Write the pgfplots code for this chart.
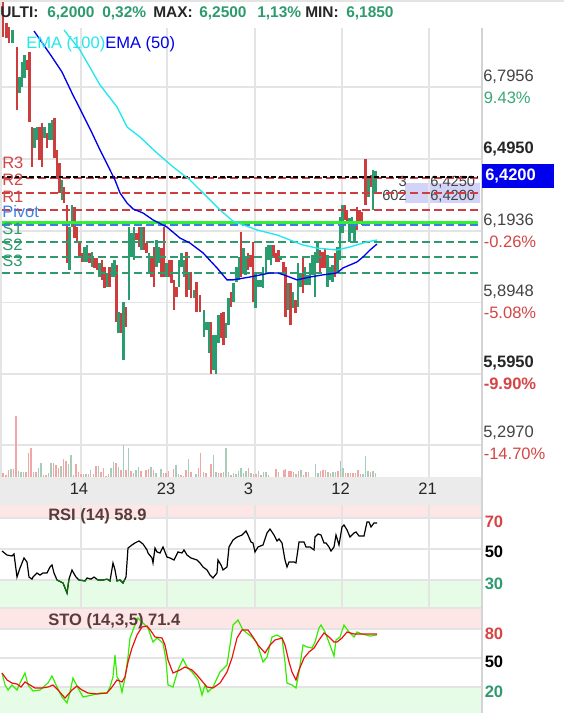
\documentclass[border=0pt]{standalone}
\usepackage{fontspec}
\setmainfont{Liberation Sans}
\usepackage{pgfplots}
\pgfplotsset{compat=1.18}
\usepgfplotslibrary{fillbetween}
\usepackage{pgfplotstable}

\definecolor{cR}{HTML}{CC3D3D}
\definecolor{cG}{HTML}{2A9D70}
\definecolor{vR}{HTML}{F2A7A7}
\definecolor{vG}{HTML}{A9CBB9}
\definecolor{gridc}{HTML}{E4E4E4}
\definecolor{pivR}{HTML}{CF3E3E}
\definecolor{pivG}{HTML}{2E9A6E}
\definecolor{pivB}{HTML}{3C7FE0}
\definecolor{limeL}{HTML}{33EE33}
\definecolor{emaB}{HTML}{0000EE}
\definecolor{emaC}{HTML}{22E8EE}
\definecolor{hdrG}{HTML}{2E9B6F}
\definecolor{hdrK}{HTML}{262626}
\definecolor{txt}{HTML}{444444}
\definecolor{pctG}{HTML}{3AA876}
\definecolor{pctR}{HTML}{D64545}
\definecolor{pinkb}{HTML}{FDE6E6}
\definecolor{greenb}{HTML}{E6FCE6}
\definecolor{lav}{HTML}{D2D3F6}
\definecolor{bandg}{HTML}{EBEBEB}
\definecolor{rsiG}{HTML}{0A6E0A}
\definecolor{stoK}{HTML}{33EE00}
\definecolor{stoD}{HTML}{EE1111}
\definecolor{lbl}{HTML}{5A3A3A}
\definecolor{labR}{HTML}{D04848}
\definecolor{labB}{HTML}{3A82E6}
\definecolor{sepc}{HTML}{D4D4D4}
\definecolor{fillG}{HTML}{CCF5CC}
\definecolor{fillP}{HTML}{F6CBCB}

\newcommand{\fa}{\fontsize{12.4}{14}\selectfont}
\newcommand{\fb}{\fontsize{11.6}{13}\selectfont}
\newcommand{\fc}{\fontsize{12.4}{14}\selectfont}
\newcommand{\fd}{\fontsize{11}{13}\selectfont}

\pgfplotsset{panel/.style={scale only axis, width=360.75pt, xmin=0, xmax=481,
  axis line style={draw=none}, tick style={draw=none},
  xtick={81,167,255,342,429}, xticklabels={}, yticklabels={},
  grid=major, major grid style={draw=gridc, line width=1.3pt}},
  hgrid/.style={gridc, line width=1.3pt, forget plot}}

\pgfplotstableread{
x v
2 48.7
7 46.1
12 45.5
14 46.8
17 31.9
20 37.7
24 44.2
27 41.6
29 31.9
32 30.6
33 31.9
37 34.5
40 33.2
43 34.5
47 34.5
50 38.4
52 39.7
54 34.5
57 30.0
63 28.1
67 21.6
69 30.6
72 36.5
73 35.2
76 31.9
79 30.0
85 29.4
87 31.3
91 30.6
94 31.9
98 30.0
103 30.0
107 30.6
110 29.4
113 41.0
115 36.5
117 29.4
120 30.0
123 28.1
126 31.9
128 50.6
132 52.6
135 53.9
139 55.2
143 53.2
147 49.4
148 47.4
152 44.2
153 41.0
155 50.6
157 48.1
160 47.4
163 51.3
167 44.8
170 44.2
174 42.9
178 48.1
182 47.4
184 49.4
187 46.1
191 44.2
197 42.9
200 41.0
203 38.4
207 36.5
210 33.2
213 31.3
217 34.5
218 42.9
221 39.7
223 36.5
227 38.4
229 51.3
233 55.8
237 57.7
242 59.0
246 61.6
248 59.0
251 54.5
253 53.9
255 48.1
258 51.3
263 52.6
267 60.3
270 62.9
274 59.0
277 55.2
279 56.5
282 53.9
285 42.9
287 38.4
289 41.6
294 41.6
296 41.0
299 54.5
304 54.5
306 51.3
310 51.3
314 49.4
315 57.7
318 59.7
321 59.0
324 53.9
326 53.9
329 51.3
331 48.7
334 51.3
336 59.0
339 52.6
342 64.2
344 65.5
347 62.3
350 57.7
354 60.3
356 61.0
359 58.4
364 58.4
367 67.4
369 67.4
371 64.2
374 66.8
377 66.8
}\rsitab

\pgfplotstableread{
x v
2 34.5
5 22.1
8 16.9
12 22.1
17 16.9
20 24.2
25 34.5
28 22.1
33 15.9
40 16.9
48 24.2
52 31.4
57 20.0
62 9.7
67 3.5
70 14.8
73 29.3
78 19.0
83 9.7
92 11.7
100 13.8
107 13.8
110 20.0
113 30.4
115 53.1
117 30.4
119 27.3
122 14.8
125 29.3
128 51.0
130 70.7
135 84.1
138 91.4
143 86.2
148 81.0
153 66.5
157 70.7
163 65.5
166 47.9
168 22.1
173 20.0
178 37.6
183 49.0
187 40.7
192 35.5
198 27.3
202 11.7
205 22.1
208 14.8
213 20.0
220 35.5
227 42.8
230 63.4
233 84.1
238 89.3
243 79.0
252 71.7
257 65.5
263 45.9
267 51.0
272 71.7
277 73.8
282 70.7
285 45.9
287 24.1
292 22.1
296 19.0
299 35.5
303 63.4
307 61.4
312 60.3
315 66.5
319 81.0
321 84.1
325 76.9
330 63.4
334 52.1
336 68.6
340 71.7
344 84.1
349 76.9
354 71.7
357 76.9
362 74.8
370 72.7
377 73.8
}\stoKtab

\pgfplotstableread{
x v
2 34.5
7 27.3
12 24.1
17 23.1
21 20.0
25 25.2
30 22.1
35 19.0
42 19.0
48 20.0
53 22.1
58 16.9
65 8.6
72 16.9
77 21.0
82 16.9
88 13.8
97 12.8
107 13.8
112 20.0
117 27.3
122 25.2
125 30.4
128 45.9
132 60.3
137 73.8
142 82.1
147 83.1
151 77.9
155 71.7
162 70.7
165 63.4
168 47.9
173 34.5
180 37.6
185 40.7
192 37.6
197 32.4
202 26.2
207 20.0
213 19.0
220 24.1
227 35.5
232 50.0
237 70.7
242 79.0
248 79.0
253 71.7
258 63.4
265 55.2
270 63.4
275 68.6
282 70.7
285 63.4
289 45.9
292 35.5
296 27.3
299 37.6
304 50.0
309 56.2
314 60.3
319 68.6
324 75.9
329 71.7
334 66.5
337 66.5
342 70.7
347 76.9
354 74.8
362 74.8
369 74.8
377 74.8
}\stoDtab

\begin{document}
\begin{tikzpicture}
% ---------- backgrounds ----------
\begin{scope}[x=0.75pt, y=0.75pt]
\fill[white] (0,0) rectangle (564,713);
\fill[bandg] (0,208) rectangle (481,236);
\fill[pinkb] (0,195) rectangle (481,208);
\fill[greenb] (0,106) rectangle (481,133);
\fill[pinkb] (0,84) rectangle (481,105);
\fill[greenb] (0,0) rectangle (481,26);
% bid / ask box
\begin{scope}
\clip (0,0) rectangle (480,713);
\fill[lav] (405,510) rectangle (481,530);
\node[anchor=base east, inner sep=0pt, font=\fd, text=txt] at (407,526.5) {3};
\node[anchor=base west, inner sep=0pt, font=\fd, text=txt] at (430,526.5) {6,4250};
\node[anchor=base east, inner sep=0pt, font=\fd, text=txt] at (407,512.5) {602};
\node[anchor=base west, inner sep=0pt, font=\fd, text=txt] at (430,512.5) {6,4200};
\end{scope}
\end{scope}

% ---------- main price panel ----------
\begin{axis}[panel, at={(0pt,177pt)}, anchor=south west, height=336.75pt,
  ymin=5.1639, ymax=7.0434, clip=false,
  ytick={5.297,5.595,5.8948,6.1936,6.495,6.7956}]
% horizontal price grid
\addplot[hgrid] coordinates {(0,6.7956) (478,6.7956)};
\addplot[hgrid] coordinates {(0,6.4950) (478,6.4950)};
\addplot[hgrid] coordinates {(0,6.1936) (478,6.1936)};
\addplot[hgrid] coordinates {(0,5.8948) (478,5.8948)};
\addplot[hgrid] coordinates {(0,5.5950) (478,5.5950)};
\addplot[hgrid] coordinates {(0,5.2970) (478,5.2970)};
% candles (low -> high)
\addplot[cR, line width=1.7pt, unbounded coords=jump] coordinates {
(3,7.006)(3,7.161)(3,nan) (6.5,7.002)(6.5,7.064)(6.5,nan) (9,6.981)(9,7.048)(9,nan)
(17,6.700)(17,6.964)(17,nan) (27,6.868)(27,6.909)(27,nan) (29.5,6.650)(29.5,6.943)(29.5,nan)
(32,6.462)(32,6.629)(32,nan) (39.5,6.491)(39.5,6.629)(39.5,nan) (42,6.462)(42,6.646)(42,nan)
(47,6.541)(47,6.604)(47,nan) (54.5,6.499)(54.5,6.667)(54.5,nan) (57,6.420)(57,6.533)(57,nan)
(59.5,6.353)(59.5,6.478)(59.5,nan) (64,6.311)(64,6.378)(64,nan) (67,6.060)(67,6.302)(67,nan)
(74.5,6.164)(74.5,6.294)(74.5,nan) (77,6.148)(77,6.210)(77,nan) (79.5,6.081)(79.5,6.143)(79.5,nan)
(82,6.064)(82,6.102)(82,nan) (89.5,6.060)(89.5,6.102)(89.5,nan) (94.5,6.039)(94.5,6.081)(94.5,nan)
(97,6.030)(97,6.081)(97,nan) (102,5.989)(102,6.072)(102,nan) (104.5,5.955)(104.5,6.043)(104.5,nan)
(109.5,5.959)(109.5,6.043)(109.5,nan) (116.5,5.813)(116.5,6.051)(116.5,nan) (121,5.767)(121,5.850)(121,nan)
(126,5.792)(126,5.875)(126,nan) (136.5,6.156)(136.5,6.185)(136.5,nan) (139,6.127)(139,6.210)(139,nan)
(144,6.114)(144,6.210)(144,nan) (146.5,6.102)(146.5,6.143)(146.5,nan) (151.5,6.001)(151.5,6.085)(151.5,nan)
(154,5.959)(154,6.127)(154,nan) (161.5,6.001)(161.5,6.122)(161.5,nan) (164,6.001)(164,6.210)(164,nan)
(169,6.001)(169,6.072)(169,nan) (171.5,5.976)(171.5,6.072)(171.5,nan) (174,5.863)(174,5.989)(174,nan)
(176.5,5.917)(176.5,5.959)(176.5,nan) (186.5,5.917)(186.5,6.106)(186.5,nan) (191,5.913)(191,6.022)(191,nan)
(196.5,5.855)(196.5,5.980)(196.5,nan) (200,5.855)(200,5.926)(200,nan) (211,5.595)(211,5.813)(211,nan)
(221,5.746)(221,5.850)(221,nan) (223.5,5.716)(223.5,5.855)(223.5,nan) (231,5.875)(231,5.938)(231,nan)
(241,6.001)(241,6.189)(241,nan) (248,6.030)(248,6.102)(248,nan) (250.5,6.043)(250.5,6.093)(250.5,nan)
(253,5.896)(253,6.148)(253,nan) (273.5,6.081)(273.5,6.135)(273.5,nan) (276,6.064)(276,6.102)(276,nan)
(278.5,6.064)(278.5,6.114)(278.5,nan) (283.5,6.018)(283.5,6.064)(283.5,nan) (285.5,5.834)(285.5,6.043)(285.5,nan)
(290.5,5.800)(290.5,5.976)(290.5,nan) (295.5,5.850)(295.5,5.905)(295.5,nan) (303,5.934)(303,6.081)(303,nan)
(320,6.018)(320,6.114)(320,nan) (322.5,6.039)(322.5,6.106)(322.5,nan) (325,6.039)(325,6.122)(325,nan)
(335,6.001)(335,6.102)(335,nan) (345,6.240)(345,6.302)(345,nan) (347,6.227)(347,6.282)(347,nan)
(357,6.198)(357,6.294)(357,nan) (359.5,6.231)(359.5,6.282)(359.5,nan) (362,6.219)(362,6.273)(362,nan)
(365.5,6.302)(365.5,6.495)(365.5,nan) (371,6.378)(371,6.428)(371,nan)
};
\addplot[cG, line width=1.7pt, unbounded coords=jump] coordinates {
(12.5,6.981)(12.5,7.035)(12.5,nan) (19.5,6.771)(19.5,6.838)(19.5,nan) (22,6.796)(22,6.901)(22,nan)
(24.5,6.834)(24.5,6.930)(24.5,nan) (34.5,6.541)(34.5,6.625)(34.5,nan) (37,6.575)(37,6.629)(37,nan)
(44.5,6.583)(44.5,6.629)(44.5,nan) (49.5,6.575)(49.5,6.646)(49.5,nan) (52,6.575)(52,6.658)(52,nan)
(62,6.323)(62,6.407)(62,nan) (69.5,6.030)(69.5,6.210)(69.5,nan) (72,6.210)(72,6.302)(72,nan)
(84.5,6.064)(84.5,6.127)(84.5,nan) (87,6.064)(87,6.135)(87,nan) (92,6.043)(92,6.106)(92,nan)
(99.5,6.001)(99.5,6.060)(99.5,nan) (107,5.959)(107,6.018)(107,nan) (112,6.001)(112,6.060)(112,nan)
(114.5,6.001)(114.5,6.072)(114.5,nan) (118.5,5.767)(118.5,5.855)(118.5,nan) (123.5,5.654)(123.5,5.896)(123.5,nan)
(129,5.905)(129,6.210)(129,nan) (131.5,6.085)(131.5,6.185)(131.5,nan) (134,6.072)(134,6.210)(134,nan)
(141.5,6.114)(141.5,6.210)(141.5,nan) (149,6.018)(149,6.102)(149,nan) (156.5,6.043)(156.5,6.156)(156.5,nan)
(159,6.060)(159,6.127)(159,nan) (166.5,6.001)(166.5,6.060)(166.5,nan) (179,5.959)(179,6.072)(179,nan)
(181.5,6.043)(181.5,6.102)(181.5,nan) (184,6.001)(184,6.072)(184,nan) (189,5.947)(189,6.018)(189,nan)
(194,5.913)(194,5.947)(194,nan) (204,5.750)(204,5.863)(204,nan) (206.5,5.779)(206.5,5.813)(206.5,nan)
(209,5.683)(209,5.813)(209,nan) (213.5,5.612)(213.5,5.758)(213.5,nan) (216,5.597)(216,5.758)(216,nan)
(218.5,5.725)(218.5,5.842)(218.5,nan) (226,5.746)(226,5.808)(226,nan) (228.5,5.800)(228.5,5.913)(228.5,nan)
(233.5,5.896)(233.5,5.976)(233.5,nan) (236.5,5.980)(236.5,6.043)(236.5,nan) (239,5.989)(239,6.085)(239,nan)
(243.5,6.018)(243.5,6.122)(243.5,nan) (245.5,6.010)(245.5,6.085)(245.5,nan) (255.5,5.871)(255.5,6.018)(255.5,nan)
(258,5.959)(258,5.989)(258,nan) (260.5,5.959)(260.5,5.989)(260.5,nan) (263,5.955)(263,6.043)(263,nan)
(266,6.018)(266,6.127)(266,nan) (268.5,6.072)(268.5,6.135)(268.5,nan) (271,6.051)(271,6.135)(271,nan)
(281,6.072)(281,6.085)(281,nan) (288,5.863)(288,5.976)(288,nan) (293,5.871)(293,5.938)(293,nan)
(298,5.875)(298,6.060)(298,nan) (300.5,5.959)(300.5,6.018)(300.5,nan) (305,5.968)(305,6.043)(305,nan)
(307.5,5.968)(307.5,6.010)(307.5,nan) (310,5.968)(310,6.060)(310,nan) (312.5,6.010)(312.5,6.093)(312.5,nan)
(315,5.917)(315,6.106)(315,nan) (317.5,6.060)(317.5,6.143)(317.5,nan) (327.5,5.959)(327.5,6.093)(327.5,nan)
(330,5.989)(330,6.043)(330,nan) (332.5,5.980)(332.5,6.051)(332.5,nan) (337.5,6.018)(337.5,6.127)(337.5,nan)
(340,6.072)(340,6.252)(340,nan) (342.5,6.185)(342.5,6.302)(342.5,nan) (349.5,6.148)(349.5,6.248)(349.5,nan)
(352,6.185)(352,6.252)(352,nan) (354.5,6.148)(354.5,6.231)(354.5,nan) (368.5,6.336)(368.5,6.420)(368.5,nan)
(373,6.282)(373,6.449)(373,nan) (375.5,6.353)(375.5,6.445)(375.5,nan)
};
% pivot levels
\addplot[pivR, line width=1.5pt, dash pattern=on 6pt off 3pt] coordinates {(2,6.416) (478,6.416)};
\addplot[pivR, line width=1.5pt, dash pattern=on 6pt off 3pt] coordinates {(2,6.353) (478,6.353)};
\addplot[pivR, line width=1.5pt, dash pattern=on 6pt off 3pt] coordinates {(2,6.282) (478,6.282)};
\addplot[limeL, line width=2.6pt] coordinates {(0,6.229) (478,6.229)};
\addplot[pivB, line width=1.5pt, dash pattern=on 6pt off 3pt] coordinates {(2,6.219) (478,6.219)};
\addplot[pivG, line width=1.5pt, dash pattern=on 6pt off 3pt] coordinates {(2,6.148) (478,6.148)};
\addplot[pivG, line width=1.5pt, dash pattern=on 6pt off 3pt] coordinates {(2,6.085) (478,6.085)};
\addplot[pivG, line width=1.5pt, dash pattern=on 6pt off 3pt] coordinates {(2,6.018) (478,6.018)};
\addplot[black, line width=1.3pt, dash pattern=on 3.5pt off 2pt] coordinates {(0,6.420) (478,6.420)};
% EMA 50
\addplot[emaB, line width=1pt] coordinates {
(34,7.031) (52,6.922) (62,6.859) (72,6.771) (82,6.688) (92,6.604) (100,6.533) (110,6.449)
(115,6.407) (120,6.353) (127,6.311) (133,6.286) (143,6.269) (153,6.240) (167,6.210) (180,6.164)
(190,6.143) (203,6.102) (217,6.039) (227,5.989) (233,5.989) (250,6.001) (270,6.018) (278,6.018)
(287,6.005) (297,5.989) (310,6.001) (323,6.010) (337,6.018) (343,6.039) (357,6.064) (363,6.085)
(370,6.114) (377,6.139)};
% EMA 100
\addplot[emaC, line width=1pt] coordinates {
(64,7.035) (80,6.951) (100,6.805) (117,6.713) (127,6.629) (140,6.587) (157,6.520) (173,6.462)
(190,6.407) (203,6.353) (220,6.282) (233,6.235) (257,6.198) (277,6.177) (290,6.156) (303,6.135)
(317,6.122) (337,6.114) (350,6.127) (367,6.148) (377,6.156)};
\end{axis}

% ---------- volume ----------
\begin{axis}[scale only axis, at={(0pt,177pt)}, anchor=south west, width=360.75pt, height=336.75pt,
  xmin=0, xmax=481, ymin=0, ymax=449, hide axis]
\addplot[vR, ycomb, line width=1.2pt] coordinates {
(3,4) (6,2.3) (8.3,7.3) (13.3,8.3) (16,60.7) (26,4.7) (28.3,24.3) (31,29.3) (36,4.7) (46,2.3)
(53.3,14.3) (56,12.3) (58.3,9.3) (63.3,18.3) (66,16.3) (73.3,2.3) (76,13.3) (78.3,5.3) (81,3.3)
(83.3,3.3) (88.3,3.3) (93.3,3.3) (95.7,11.3) (100.7,5.3) (103.3,9.3) (108.3,3.3) (115.7,14.3)
(120.7,7.3) (125.7,7.3) (130.7,6.3) (140.7,6.3) (145.7,7.3) (148.3,8.3) (153.3,7.3) (163.3,4.3)
(165.7,4.3) (168.3,6.3) (173.3,8.3) (180.7,2.3) (185.7,7.3) (190.7,5.3) (198.3,9.3) (200.3,24.3)
(205.7,4.3) (210.7,13.3) (218.3,4.3) (220.7,4.3) (230.7,2.3) (248.3,9.3) (253.3,3.3) (255.7,3.3)
(260.7,2.3) (268.3,2.3) (275.7,8.3) (283.7,7.3) (285.3,8.3) (288.7,6.3) (291,6.3) (293.3,5.3)
(298.3,6.3) (303.3,2) (305.7,5.3) (320.3,6.3) (322.7,7.3) (325.3,7.3) (330.3,4.3) (337.7,6.3)
(345.3,4.3) (347.7,4.3) (350.3,4.3) (352.7,4.3) (357.7,7.3) (360.3,3.3) (370.3,5.3)};
\addplot[vG, ycomb, line width=1.2pt] coordinates {
(11,8.3) (18.3,6.3) (21,5.3) (23.3,4.7) (33.3,5.3) (38.3,9.3) (41,14.3) (43.3,2.3) (48.3,4.3)
(51,14.3) (61,11.3) (68.3,13.3) (71,22.3) (86,3.3) (90.3,7.3) (98.3,11.3) (105.7,1.3) (111,9.3)
(113.3,15.3) (118.3,10.3) (123.3,32.3) (128.3,29.3) (133.3,4.3) (135.7,7.3) (138.3,10.3) (150.7,10.3)
(155.7,4.3) (160.7,8.3) (175.7,12.3) (178.3,3.3) (183.3,1.3) (188.3,18.3) (195.7,3.3) (203.3,5.3)
(213.3,22.3) (215.7,5.3) (223.3,5.3) (225.7,29.3) (228.3,5.3) (233.3,4.3) (235.7,3.3) (238.3,6.3)
(240.7,9.3) (243.3,4.3) (245.7,6.3) (250.7,4.3) (258.3,6.3) (263.3,5.3) (265.7,5.3) (278.3,5.3)
(295.7,3.3) (300.7,7.3) (308.3,5.3) (315.3,13.3) (318,4) (327.7,5.3) (332.7,5.3) (335.3,5.3)
(340.3,16.3) (342.7,9.3) (355.3,4.3) (362.7,3.3) (365.3,21.3) (367.7,6.3) (372.7,6.3) (375.3,4.3)};
\end{axis}

% ---------- RSI ----------
\begin{axis}[panel, at={(0pt,78.75pt)}, anchor=south west, height=77.25pt,
  ymin=11.94, ymax=78.38, ytick={30,50,70}]
\addplot[hgrid] coordinates {(0,30) (481,30)};
\addplot[hgrid] coordinates {(0,50) (481,50)};
\addplot[hgrid] coordinates {(0,70) (481,70)};
\addplot[black, line width=0.9pt] table[x=x, y=v] {\rsitab};
\end{axis}
\begin{axis}[scale only axis, at={(0pt,78.75pt)}, anchor=south west, width=360.75pt, height=21pt,
  xmin=0, xmax=481, ymin=11.94, ymax=30, hide axis]
\addplot[rsiG, line width=0.9pt] table[x=x, y=v] {\rsitab};
\end{axis}

% ---------- STO ----------
\begin{axis}[panel, at={(0pt,0pt)}, anchor=south west, height=78.75pt,
  ymin=-6.87, ymax=101.7, ytick={20,50,80}]
\addplot[hgrid] coordinates {(0,20) (481,20)};
\addplot[hgrid] coordinates {(0,50) (481,50)};
\addplot[hgrid] coordinates {(0,80) (481,80)};
\addplot[draw=none, name path=K] table[x=x, y=v] {\stoKtab};
\addplot[draw=none, name path=D] table[x=x, y=v] {\stoDtab};
\addplot[fill=fillG, draw=none] fill between[of=K and D];
\addplot[fill=fillP, draw=none] fill between[of=K and D, soft clip={domain=3:23}];
\addplot[fill=fillP, draw=none] fill between[of=K and D, soft clip={domain=28:46}];
\addplot[fill=fillP, draw=none] fill between[of=K and D, soft clip={domain=60:69}];
\addplot[fill=fillP, draw=none] fill between[of=K and D, soft clip={domain=76:108}];
\addplot[fill=fillP, draw=none] fill between[of=K and D, soft clip={domain=120:126}];
\addplot[fill=fillP, draw=none] fill between[of=K and D, soft clip={domain=150:177}];
\addplot[fill=fillP, draw=none] fill between[of=K and D, soft clip={domain=189:212}];
\addplot[fill=fillP, draw=none] fill between[of=K and D, soft clip={domain=259:270}];
\addplot[fill=fillP, draw=none] fill between[of=K and D, soft clip={domain=283:301}];
\addplot[fill=fillP, draw=none] fill between[of=K and D, soft clip={domain=327:336}];
\addplot[fill=fillP, draw=none] fill between[of=K and D, soft clip={domain=351:356}];
\addplot[stoK, line width=0.9pt] table[x=x, y=v] {\stoKtab};
\addplot[stoD, line width=0.9pt] table[x=x, y=v] {\stoDtab};
\end{axis}

\begin{scope}[x=0.75pt, y=0.75pt]
% ---------- frame lines ----------
\draw[sepc, line width=1.5pt] (481.5,0) -- (481.5,685);
\draw[gridc, line width=1.5pt] (0,712) -- (564,712);
\draw[gridc, line width=1.2pt] (0.7,236) -- (0.7,713);
\draw[gridc, line width=1.5pt] (0,105) -- (481,105);

% ---------- header ----------
\node[anchor=base west, inner sep=0pt, font=\fb\bfseries, text=hdrK] at (0,695.5) {ULTI:};
\node[anchor=base west, inner sep=0pt, font=\fb\bfseries, text=hdrG] at (47,695.5) {6,2000};
\node[anchor=base west, inner sep=0pt, font=\fb\bfseries, text=hdrG] at (102,695.5) {0,32\%};
\node[anchor=base west, inner sep=0pt, font=\fb\bfseries, text=hdrK] at (153,695.5) {MAX:};
\node[anchor=base west, inner sep=0pt, font=\fb\bfseries, text=hdrG] at (199,695.5) {6,2500};
\node[anchor=base west, inner sep=0pt, font=\fb\bfseries, text=hdrG] at (257,695.5) {1,13\%};
\node[anchor=base west, inner sep=0pt, font=\fb\bfseries, text=hdrK] at (305,695.5) {MIN:};
\node[anchor=base west, inner sep=0pt, font=\fb\bfseries, text=hdrG] at (346,695.5) {6,1850};

% ---------- EMA legend ----------
\node[anchor=base west, inner sep=0pt, font=\fa, text=emaC] at (26,664.5) {EMA (100)};
\node[anchor=base west, inner sep=0pt, font=\fa, text=emaB] at (105,664.5) {EMA (50)};

% ---------- pivot labels ----------
\node[anchor=base west, inner sep=0pt, font=\fc, text=labR] at (2,544) {R3};
\node[anchor=base west, inner sep=0pt, font=\fc, text=labR] at (2,527) {R2};
\node[anchor=base west, inner sep=0pt, font=\fc, text=labR] at (2,510.5) {R1};
\node[anchor=base west, inner sep=0pt, font=\fc, text=labB] at (2,495) {Pivot};
\node[anchor=base west, inner sep=0pt, font=\fc, text=pivG] at (2,478) {S1};
\node[anchor=base west, inner sep=0pt, font=\fc, text=pivG] at (2,462) {S2};
\node[anchor=base west, inner sep=0pt, font=\fc, text=pivG] at (2,446) {S3};

% ---------- right price scale ----------
\node[anchor=base west, inner sep=0pt, font=\fa, text=txt] at (483,631) {6,7956};
\node[anchor=base west, inner sep=0pt, font=\fa, text=pctG] at (483.5,609) {9.43\%};
\node[anchor=base west, inner sep=0pt, font=\fa\bfseries, text=hdrK] at (483,559) {6,4950};
\fill[emaB] (481.5,525) rectangle (554,549);
\node[anchor=base west, inner sep=0pt, font=\fa\bfseries, text=white] at (485,532) {6,4200};
\node[anchor=base west, inner sep=0pt, font=\fa, text=txt] at (483,487.5) {6,1936};
\node[anchor=base west, inner sep=0pt, font=\fa, text=pctR] at (483.5,465) {-0.26\%};
\node[anchor=base west, inner sep=0pt, font=\fa, text=txt] at (483,416) {5,8948};
\node[anchor=base west, inner sep=0pt, font=\fa, text=pctR] at (483.5,394) {-5.08\%};
\node[anchor=base west, inner sep=0pt, font=\fa\bfseries, text=hdrK] at (483,345) {5,5950};
\node[anchor=base west, inner sep=0pt, font=\fa\bfseries, text=pctR] at (483.5,323) {-9.90\%};
\node[anchor=base west, inner sep=0pt, font=\fa, text=txt] at (483,275) {5,2970};
\node[anchor=base west, inner sep=0pt, font=\fa, text=pctR] at (483.5,253) {-14.70\%};

% ---------- date labels ----------
\node[anchor=base, inner sep=0pt, font=\fa, text=hdrK] at (79,218) {14};
\node[anchor=base, inner sep=0pt, font=\fa, text=hdrK] at (166,218) {23};
\node[anchor=base, inner sep=0pt, font=\fa, text=hdrK] at (248.5,218) {3};
\node[anchor=base, inner sep=0pt, font=\fa, text=hdrK] at (340.5,218) {12};
\node[anchor=base, inner sep=0pt, font=\fa, text=hdrK] at (427.5,218) {21};

% ---------- indicator labels ----------
\node[anchor=base west, inner sep=0pt, font=\fc\bfseries, text=lbl] at (48,192) {RSI (14) 58.9};
\node[anchor=base west, inner sep=0pt, font=\fc\bfseries, text=lbl] at (48,87.5) {STO (14,3,5) 71.4};
\node[anchor=base west, inner sep=0pt, font=\fa\bfseries, text=pctR] at (484.5,185) {70};
\node[anchor=base west, inner sep=0pt, font=\fa\bfseries, text=black] at (484.5,155) {50};
\node[anchor=base west, inner sep=0pt, font=\fa\bfseries, text=pivG] at (484.5,123) {30};
\node[anchor=base west, inner sep=0pt, font=\fa\bfseries, text=pctR] at (484.5,73) {80};
\node[anchor=base west, inner sep=0pt, font=\fa\bfseries, text=black] at (484.5,45) {50};
\node[anchor=base west, inner sep=0pt, font=\fa\bfseries, text=pivG] at (484.5,15) {20};
\end{scope}

\pgfresetboundingbox
\useasboundingbox (0pt,0pt) rectangle (423pt,534.75pt);
\end{tikzpicture}
\end{document}
